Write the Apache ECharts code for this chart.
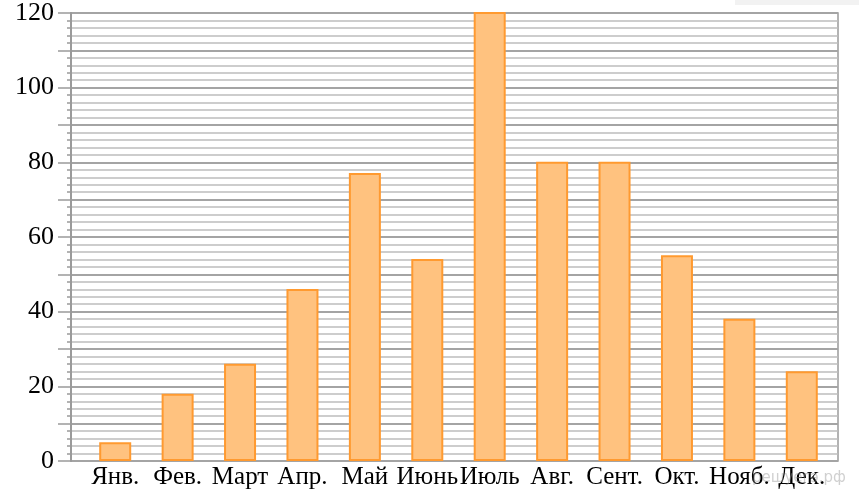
<!DOCTYPE html>
<html>
<head>
<meta charset="utf-8">
<script src="https://cdn.jsdelivr.net/npm/echarts@6/dist/echarts.min.js"></script>
<style>
  html, body { margin: 0; padding: 0; background: #fff; }
  #chart { width: 859px; height: 496px; }
</style>
</head>
<body>
<div id="chart"></div>
<script>
var months = ['Янв.', 'Фев.', 'Март', 'Апр.', 'Май', 'Июнь', 'Июль', 'Авг.', 'Сент.', 'Окт.', 'Нояб.', 'Дек.'];
var values = [5, 18, 26, 46, 77, 54, 120, 80, 80, 55, 38, 24];
var yMin = 0;
var yMax = 120;
var yStep = 10;
var labelStep = 20;

var chart = echarts.init(document.getElementById('chart'), null, { renderer: 'canvas' });

var serif = '"Liberation Serif", "DejaVu Serif", serif';

var option = {
  animation: false,
  backgroundColor: '#fff',
  grid: [{
    left: 71, right: 21, top: 12, bottom: 35,
    show: true,
    borderColor: '#9a9a9a',
    borderWidth: 1.5,
    backgroundColor: '#fff'
  }, {
    left: 84, right: 26, top: 12, bottom: 35
  }],
  xAxis: [{
    gridIndex: 0,
    type: 'value',
    show: false
  }, {
    gridIndex: 1,
    type: 'category',
    data: months,
    axisLine: { show: false },
    axisTick: { show: false },
    axisLabel: {
      interval: 0,
      margin: 4,
      color: '#000',
      fontFamily: serif,
      fontSize: 25
    }
  }],
  yAxis: [{
    gridIndex: 0,
    type: 'value',
    min: yMin,
    max: yMax,
    interval: yStep,
    axisLine: { show: true, lineStyle: { color: '#9a9a9a', width: 2 } },
    axisTick: { show: true, length: 13, lineStyle: { color: '#9a9a9a', width: 1.5 } },
    minorTick: { show: true, splitNumber: 5, length: 4, lineStyle: { color: '#9a9a9a', width: 1.5 } },
    splitLine: { show: true, lineStyle: { color: '#a4a4a4', width: 1.8 } },
    minorSplitLine: { show: true, lineStyle: { color: '#bdbdbd', width: 1.5 } },
    axisLabel: {
      margin: 17,
      color: '#000',
      fontFamily: serif,
      fontSize: 26,
      formatter: function (v) { return v % labelStep === 0 ? String(v) : ''; }
    }
  }, {
    gridIndex: 1,
    type: 'value',
    min: yMin,
    max: yMax,
    show: false
  }],
  series: [{
    type: 'bar',
    xAxisIndex: 1,
    yAxisIndex: 1,
    data: values,
    barWidth: 32,
    itemStyle: {
      color: '#ffc27f',
      borderColor: '#ff9a30',
      borderWidth: 2
    }
  }],
  graphic: [{
    type: 'rect',
    shape: { x: 735, y: 0, width: 124, height: 5 },
    style: { fill: '#f2f2f2' },
    silent: true
  }, {
    type: 'text',
    left: 752,
    top: 471,
    style: {
      text: 'решуегэ.рф',
      fill: 'rgba(150,150,150,0.45)',
      font: '15px "DejaVu Sans", sans-serif'
    },
    silent: true,
    z: 10
  }]
};

chart.setOption(option);
</script>
</body>
</html>
